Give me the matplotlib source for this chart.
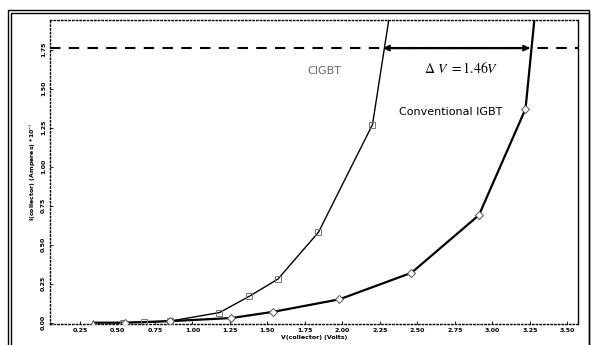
import numpy as np
import matplotlib
matplotlib.use("Agg")
import matplotlib.pyplot as plt
from matplotlib.patches import Rectangle

# Values
cigbt_v = [0.54, 0.68, 0.85, 1.18, 1.38, 1.57, 1.84, 2.20, 2.31]
cigbt_i = [0.0, 0.005, 0.01, 0.065, 0.17, 0.28, 0.58, 1.27, 1.95]

conv_v = [0.34, 0.55, 0.85, 1.26, 1.54, 1.98, 2.46, 2.91, 3.22, 3.28]
conv_i = [0.0, 0.0, 0.01, 0.03, 0.07, 0.15, 0.32, 0.69, 1.37, 1.95]

x_ticks = [0.25, 0.50, 0.75, 1.00, 1.25, 1.50, 1.75, 2.00, 2.25, 2.50, 2.75, 3.00, 3.25, 3.50]
y_ticks = [0.00, 0.25, 0.50, 0.75, 1.00, 1.25, 1.50, 1.75]

i_level = 1.76
dv_start, dv_end = 2.27, 3.25

plt.rcParams["mathtext.fontset"] = "stix"

fig = plt.figure(figsize=(5.91, 3.45), dpi=100)
ax = fig.add_axes([0.0846, 0.061, 0.8934, 0.881])

# scanned page border (double line)
for off in (8, 11):
    fig.patches.append(Rectangle((off / 591, -0.02), (589 - off) / 591, 1 - (off + 2) / 345 + 0.02,
                                 transform=fig.transFigure, fill=False, lw=1.0,
                                 edgecolor="black"))

# CIGBT curve
ax.plot(cigbt_v, cigbt_i, color="black", lw=1.0, zorder=3)
ax.plot(cigbt_v[:-1], cigbt_i[:-1], ls="none", marker="s", ms=5, mfc="none",
        mec="#777777", mew=0.7, zorder=4)

# conventional IGBT curve
ax.plot(conv_v, conv_i, color="black", lw=1.6, zorder=3)
ax.plot(conv_v[1:-1], conv_i[1:-1], ls="none", marker="D", ms=4, mfc="white",
        mec="#555555", mew=0.7, zorder=4)
ax.plot(conv_v[:1], conv_i[:1], ls="none", marker="^", ms=5, mfc="white",
        mec="#555555", mew=0.7, zorder=4)

# current level and delta V arrow
ax.axhline(i_level, color="black", lw=1.5, ls=(0, (5, 4)), zorder=2)
ax.annotate("", xy=(dv_end, i_level), xytext=(dv_start, i_level),
            arrowprops=dict(arrowstyle="<->", color="black", lw=1.6,
                            shrinkA=0, shrinkB=0, mutation_scale=8), zorder=5)

ax.text(1.88, 1.61, "CIGBT", fontsize=8, color="#666666", ha="center", va="center")
ax.text(2.79, 1.63, r"$\Delta\ V\ = 1.46V$", fontsize=10, ha="center", va="center")
ax.text(2.72, 1.35, "Conventional IGBT", fontsize=8, ha="center", va="center")

ax.set_xlim(0.05, 3.57)
ax.set_ylim(-0.008, 1.94)
ax.set_xticks(x_ticks)
ax.set_xticklabels([f"{v:.2f}" for v in x_ticks], fontsize=4.5, fontweight="bold")
ax.set_yticks(y_ticks)
ax.set_yticklabels([f"{v:.2f}" for v in y_ticks], fontsize=4.5, fontweight="bold",
                   rotation=90, va="center")
ax.tick_params(direction="in", length=2, width=0.6, pad=3)

ax.set_xlabel("V(collector) (Volts)", fontsize=4.5, fontweight="bold", labelpad=1)
ax.set_ylabel("I(collector) (Amperes) *10$^{-3}$", fontsize=4.5, fontweight="bold",
              labelpad=2)

for name in ("left", "bottom", "top"):
    ax.spines[name].set_linestyle(":")
    ax.spines[name].set_linewidth(1.0)
ax.spines["right"].set_linewidth(1.0)

fig.savefig("out.png", dpi=100)
